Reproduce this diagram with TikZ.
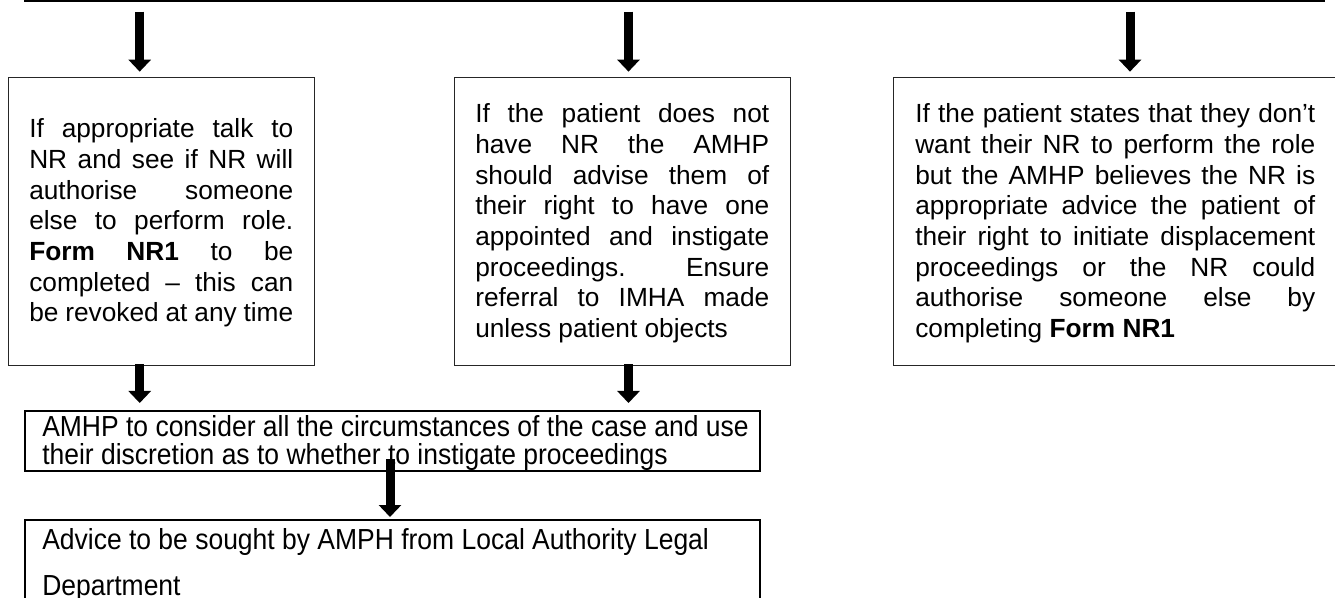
\documentclass[tikz,border=0pt]{standalone}
\usepackage{fontspec}
\setmainfont{Liberation Sans}
\newfontfamily\narrowfont[FakeStretch=0.913]{Liberation Sans}
\usetikzlibrary{arrows.meta}
\newcommand\jl[2]{\makebox[#1][s]{#2}}
\begin{document}
\begin{tikzpicture}[x=0.75pt,y=-0.75pt,
  sbox/.style={draw=black!85, line width=0.9pt, anchor=north west, inner sep=0pt},
  bbox/.style={draw=black, line width=1.5pt, anchor=north west, inner sep=0pt},
  txt/.style={anchor=base west, inner sep=0pt, text=black},
  bigarrow/.style={line width=6.75pt, -{Triangle[width=16.5pt,length=9pt]}},
]
\useasboundingbox (0,0) rectangle (1335,598);
\clip (0,0) rectangle (1335,598);

% boxes
\node[bbox, line width=1.6pt, anchor=south west, minimum width=974.25pt, minimum height=30pt] (top) at (24,2) {};
\node[sbox, minimum width=229.5pt, minimum height=216pt] (b1) at (8,77) {};
\node[sbox, minimum width=252pt, minimum height=216pt] (b2) at (454,77) {};
\node[sbox, minimum width=336pt, minimum height=216pt] (b3) at (893,77) {};
\node[bbox, minimum width=551.25pt, minimum height=45pt] (b4) at (24,410) {};
\node[bbox, minimum width=551.25pt, minimum height=75pt] (b5) at (24,519) {};

% texts
\node[txt] (t1) at (29,137.7) {\parbox[t]{198pt}{\fontsize{19.7pt}{23pt}\selectfont
\jl{198pt}{If appropriate talk to}\\
\jl{198pt}{NR and see if NR will}\\
\jl{198pt}{authorise someone}\\
\jl{198pt}{else to perform role.}\\
\jl{198pt}{\textbf{Form NR1} to be}\\
\jl{198pt}{completed – this can}\\
be revoked at any time}};

\node[txt] (t2) at (475,122.7) {\parbox[t]{220.5pt}{\fontsize{19.7pt}{23pt}\selectfont
\jl{220.5pt}{If the patient does not}\\
\jl{220.5pt}{have NR the AMHP}\\
\jl{220.5pt}{should advise them of}\\
\jl{220.5pt}{their right to have one}\\
\jl{220.5pt}{appointed and instigate}\\
\jl{220.5pt}{proceedings. Ensure}\\
\jl{220.5pt}{referral to IMHA made}\\
unless patient objects}};

\node[txt] (t3) at (915,122.7) {\parbox[t]{300pt}{\fontsize{19.7pt}{23pt}\selectfont
\jl{300pt}{If the patient states that they don’t}\\
\jl{300pt}{want their NR to perform the role}\\
\jl{300pt}{but the AMHP believes the NR is}\\
\jl{300pt}{appropriate advice the patient of}\\
\jl{300pt}{their right to initiate displacement}\\
\jl{300pt}{proceedings or the NR could}\\
\jl{300pt}{authorise someone else by}\\
completing \textbf{Form NR1}}};

\node[txt] (t4) at (42,436) {\parbox[t]{560pt}{\narrowfont\fontsize{21.75pt}{21pt}\selectfont
AMHP to consider all the circumstances of the case and use\\
their discretion as to whether to instigate proceedings}};

\node[txt] (t5) at (42,549) {\parbox[t]{560pt}{\narrowfont\fontsize{21.75pt}{35pt}\selectfont
Advice to be sought by AMPH from Local Authority Legal\\
Department}};

% arrow x positions
\coordinate (x1) at (139.7,0);
\coordinate (x2) at (628.5,0);
\coordinate (x3) at (1130,0);
\coordinate (x4) at (390,0);

\draw[bigarrow, shorten <=7.3pt, shorten >=4pt] (top.south -| x1) -- (b1.north -| x1);
\draw[bigarrow, shorten <=7.3pt, shorten >=4pt] (top.south -| x2) -- (b2.north -| x2);
\draw[bigarrow, shorten <=7.3pt, shorten >=4pt] (top.south -| x3) -- (b3.north -| x3);
\draw[bigarrow, shorten <=-1.5pt, shorten >=5.25pt] (b1.south -| x1) -- (b4.north -| x1);
\draw[bigarrow, shorten <=-1.5pt, shorten >=5.25pt] (b2.south -| x2) -- (b4.north -| x2);
\draw[bigarrow, shorten <=-9.75pt, shorten >=1.5pt] (b4.south -| x4) -- (b5.north -| x4);
\end{tikzpicture}
\end{document}
